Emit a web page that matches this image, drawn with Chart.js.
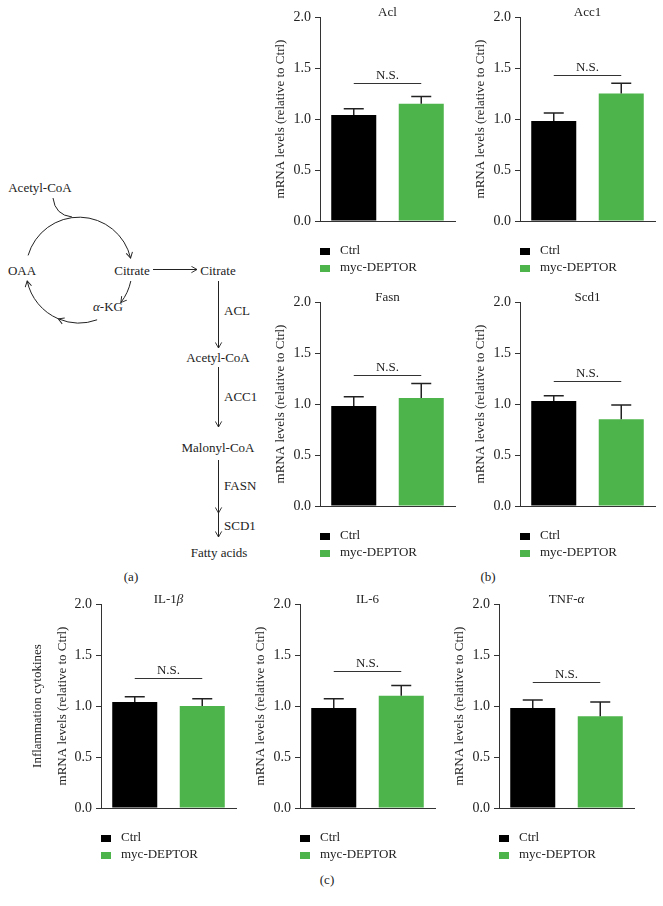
<!DOCTYPE html>
<html><head><meta charset="utf-8">
<script src="https://cdn.jsdelivr.net/npm/chart.js@4"></script>
<style>
html,body{margin:0;padding:0;background:#fff;}
#wrap{position:relative;width:663px;height:906px;overflow:hidden;font-family:"Liberation Serif","Times New Roman",serif;color:#222;}
canvas{position:absolute;}
.lab{position:absolute;font-size:13px;color:#222;transform:translate(-50%,-50%);white-space:nowrap;}
svg{position:absolute;left:0;top:0;}
</style></head><body>
<div id="wrap">
<svg width="663" height="906" xmlns="http://www.w3.org/2000/svg" font-family="'Liberation Serif', 'Times New Roman', serif" font-size="13" fill="#222">
<defs><marker id="ah" viewBox="0 0 10 10" refX="9" refY="5" markerWidth="7" markerHeight="8" orient="auto" markerUnits="userSpaceOnUse" preserveAspectRatio="none"><path d="M1 1 L9 5 L1 9" fill="none" stroke="#222" stroke-width="1.2"/></marker></defs>
<g fill="none" stroke="#222" stroke-width="1">
<path d="M53 198 Q55 215 72 217"/>
<path d="M28.1 255.4 A53 53 0 0 1 130.6 258.1" marker-end="url(#ah)"/>
<path d="M130.8 281 A53 53 0 0 1 120.8 302.6" marker-end="url(#ah)"/>
<path d="M97.1 319.8 A53 53 0 0 1 58.3 318.8" marker-end="url(#ah)"/>
<path d="M58.3 318.8 A53 53 0 0 1 27.2 281" marker-end="url(#ah)"/>
<path d="M153 269.5 L197 269.5" marker-end="url(#ah)"/>
<path d="M218.5 281 L218.5 348" marker-end="url(#ah)"/>
<path d="M218.5 367 L218.5 427" marker-end="url(#ah)"/>
<path d="M218.5 460 L218.5 513" marker-end="url(#ah)"/>
<path d="M218.5 513 L218.5 537" marker-end="url(#ah)"/>
</g>
<g dominant-baseline="central">
<text x="40" y="187" text-anchor="middle">Acetyl-CoA</text>
<text x="22" y="270" text-anchor="middle">OAA</text>
<text x="132" y="270" text-anchor="middle">Citrate</text>
<text x="108" y="306" text-anchor="middle"><tspan font-style="italic">α</tspan>-KG</text>
<text x="218" y="270" text-anchor="middle">Citrate</text>
<text x="224" y="310">ACL</text>
<text x="218" y="357" text-anchor="middle">Acetyl-CoA</text>
<text x="224" y="396">ACC1</text>
<text x="218" y="447" text-anchor="middle">Malonyl-CoA</text>
<text x="224" y="485">FASN</text>
<text x="224" y="525">SCD1</text>
<text x="219" y="552" text-anchor="middle">Fatty acids</text>
</g>
</svg>
<div class="lab" style="left:131px;top:577px">(a)</div>
<div class="lab" style="left:488px;top:577px">(b)</div>
<div class="lab" style="left:327px;top:880px">(c)</div>
</div>
<script>
// ---- data ----
const groups = ['Ctrl', 'myc-DEPTOR'];
const genes = ['Acl', 'Acc1', 'Fasn', 'Scd1', 'IL-1β', 'IL-6', 'TNF-α'];
const ctrlMeans = [1.04, 0.98, 0.98, 1.03, 1.04, 0.98, 0.98];
const ctrlSEM = [0.06, 0.08, 0.09, 0.05, 0.05, 0.09, 0.08];
const deptorMeans = [1.15, 1.25, 1.06, 0.85, 1.00, 1.10, 0.90];
const deptorSEM = [0.07, 0.10, 0.14, 0.14, 0.07, 0.10, 0.14];
const nsLevels = [1.35, 1.43, 1.28, 1.23, 1.27, 1.34, 1.24];
const nsLabel = 'N.S.';
const yTicks = [0, 0.5, 1.0, 1.5, 2.0];
const yTitleMain = 'mRNA levels (relative to Ctrl)';
const yTitleExtra = 'Inflammation cytokines';

// ---- layout (plot-area left / top in page pixels) ----
const areaLeft = [320, 520, 320, 520, 101, 300, 499];
const areaTop = [17, 17, 302, 302, 604, 604, 604];
const AXW = 90, PADT = 17, PLOTW = 135, PLOTH = 204, XH = 80, PADR = 5;
const GREEN = '#4cb44a', DARK = '#222';
const FAM = "'Liberation Serif', 'Times New Roman', serif";

function drawTitle(ctx, text, cx, cy) {
  ctx.textBaseline = 'middle';
  ctx.textAlign = 'left';
  const parts = [];
  for (const ch of text) {
    const it = /[α-ω]/.test(ch);
    const last = parts[parts.length - 1];
    if (last && last.it === it) last.s += ch; else parts.push({s: ch, it});
  }
  let w = 0;
  parts.forEach(p => { ctx.font = (p.it ? 'italic ' : '') + '13px ' + FAM; p.w = ctx.measureText(p.s).width; w += p.w; });
  let x = cx - w / 2;
  parts.forEach(p => { ctx.font = (p.it ? 'italic ' : '') + '13px ' + FAM; ctx.fillText(p.s, x, cy); x += p.w; });
}

const panelPlugin = {
  id: 'panel',
  afterDatasetsDraw(chart, args, opts) {
    const k = opts.k;
    const ctx = chart.ctx;
    const ys = chart.scales.y;
    const {left, right, top, bottom} = chart.chartArea;
    const sems = [ctrlSEM[k], deptorSEM[k]];
    ctx.save();
    chart.data.datasets.forEach((ds, i) => {
      const el = chart.getDatasetMeta(i).data[i];
      const v = ds.data[i];
      const yT = ys.getPixelForValue(v + sems[i]);
      ctx.strokeStyle = DARK; ctx.lineWidth = 1.5;
      ctx.beginPath();
      ctx.moveTo(el.x, el.y); ctx.lineTo(el.x, yT);
      ctx.moveTo(el.x - 10, yT); ctx.lineTo(el.x + 10, yT);
      ctx.stroke();
    });
    const x1 = chart.getDatasetMeta(0).data[0].x;
    const x2 = chart.getDatasetMeta(1).data[1].x;
    const yn = Math.round(ys.getPixelForValue(nsLevels[k])) + 0.5;
    ctx.strokeStyle = '#333'; ctx.lineWidth = 1;
    ctx.beginPath(); ctx.moveTo(x1, yn); ctx.lineTo(x2, yn); ctx.stroke();
    ctx.fillStyle = DARK; ctx.font = '13px ' + FAM;
    ctx.textAlign = 'center'; ctx.textBaseline = 'middle';
    ctx.fillText(nsLabel, (x1 + x2) / 2, yn - 8);
    drawTitle(ctx, genes[k], (left + right) / 2, top - 4);
    chart.data.datasets.forEach((ds, i) => {
      const yy = Math.round(bottom + 29.5 + i * 17);
      ctx.fillStyle = ds.backgroundColor;
      ctx.fillRect(left, yy - 3, 10, 7);
      ctx.fillStyle = DARK; ctx.font = '13px ' + FAM;
      ctx.textAlign = 'left'; ctx.textBaseline = 'middle';
      ctx.fillText(ds.label, left + 20, yy);
    });
    ctx.restore();
  }
};

function build() {
  const wrap = document.getElementById('wrap');
  genes.forEach((g, k) => {
    const cv = document.createElement('canvas');
    const W = AXW + PLOTW + PADR, H = PADT + PLOTH + XH;
    cv.width = W; cv.height = H;
    cv.style.left = (areaLeft[k] - AXW) + 'px';
    cv.style.top = (areaTop[k] - PADT) + 'px';
    cv.style.width = W + 'px'; cv.style.height = H + 'px';
    wrap.appendChild(cv);
    const twoLine = k === 4;
    new Chart(cv, {
      type: 'bar',
      data: {
        labels: groups,
        datasets: [
          {label: groups[0], data: [ctrlMeans[k], null], backgroundColor: '#000'},
          {label: groups[1], data: [null, deptorMeans[k]], backgroundColor: GREEN}
        ]
      },
      options: {
        responsive: false, animation: false, devicePixelRatio: 1,
        layout: {padding: {top: PADT, right: PADR, left: 0, bottom: 0}},
        datasets: {bar: {skipNull: true, categoryPercentage: 1, barPercentage: 0.667, borderWidth: 0}},
        plugins: {legend: {display: false}, title: {display: false}, tooltip: {enabled: false}, panel: {k}},
        scales: {
          x: {
            grid: {display: false},
            ticks: {display: false},
            border: {display: true, color: '#333', width: 1},
            afterFit: s => { s.height = XH; }
          },
          y: {
            min: 0, max: 2,
            afterBuildTicks: s => { s.ticks = yTicks.map(v => ({value: v})); },
            ticks: {padding: 4, color: DARK, font: {family: FAM, size: 14}, callback: v => Number(v).toFixed(1)},
            grid: {display: true, drawOnChartArea: false, drawTicks: true, tickLength: 5, color: '#333', lineWidth: 1},
            border: {display: true, color: '#333', width: 1},
            title: {
              display: true,
              text: twoLine ? [yTitleExtra, yTitleMain] : yTitleMain,
              color: DARK,
              font: {family: FAM, size: 13, lineHeight: 1.92},
              padding: {top: twoLine ? 14.5 : 38.5, bottom: 0}
            },
            afterFit: s => { s.width = AXW; }
          }
        }
      },
      plugins: [panelPlugin]
    });
  });
}
Chart.defaults.font.family = FAM;
const fl = document.fonts && document.fonts.load
  ? Promise.all([document.fonts.load("13px 'Liberation Serif'"), document.fonts.load("italic 13px 'Liberation Serif'")])
  : Promise.resolve();
fl.then(build, build);
</script>
</body></html>
